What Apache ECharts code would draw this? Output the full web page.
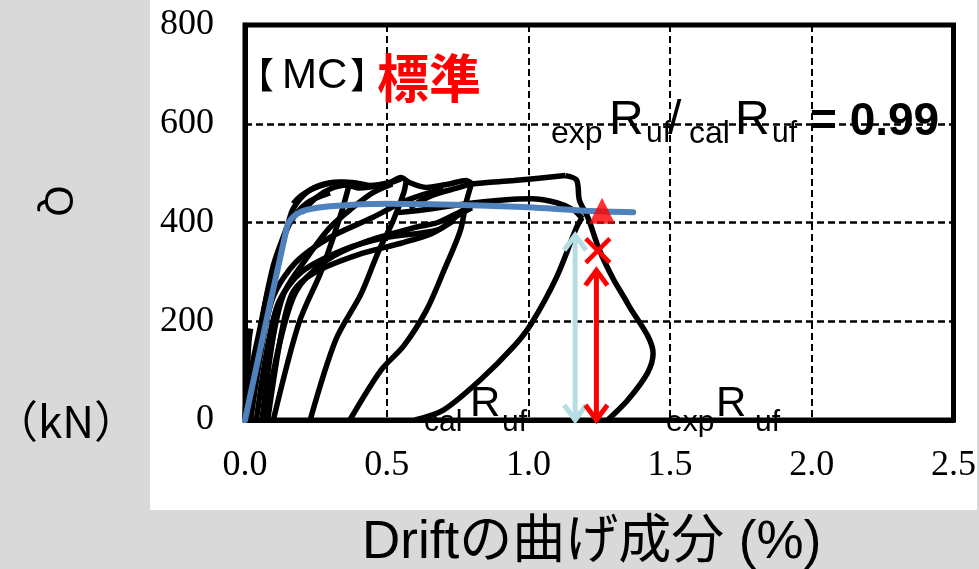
<!DOCTYPE html>
<html>
<head>
<meta charset="utf-8">
<script src="https://cdn.jsdelivr.net/npm/echarts@6/dist/echarts.min.js"></script>
<style>
  html, body { margin: 0; padding: 0; background: #d9d9d9; }
  #main { width: 979px; height: 569px; }
</style>
</head>
<body>
<div id="main"></div>
<script>
// axis ticks
var xTicks = [0.0, 0.5, 1.0, 1.5, 2.0, 2.5];
var yTicks = [0, 200, 400, 600, 800];

// hysteresis curves: [drift %, Q kN]
var loopSmall = [[0, 0], [0.006, 80], [0.014, 160], [0.02, 185]];
var loopFirst = [[0, 0], [0.025, 110], [0.05, 178], [0.1, 313], [0.15, 394], [0.17, 428], [0.22, 462], [0.28, 478], [0.34, 482], [0.38, 480]];
var envelope = [[0.17, 438], [0.2, 455], [0.25, 471], [0.32, 481], [0.38, 481], [0.44, 475], [0.51, 481], [0.55, 491], [0.58, 481], [0.64, 471], [0.72, 478], [0.78, 485], [0.8, 479]];
var topB = [[0.2, 420], [0.25, 450], [0.3, 468], [0.36, 476], [0.4, 470], [0.5, 478], [0.55, 488]];
var fanA = [[0.02, 0], [0.06, 150], [0.1, 250], [0.18, 320], [0.3, 370], [0.45, 410], [0.55, 440], [0.62, 455], [0.7, 468]];
var fanB = [[0.04, 0], [0.08, 150], [0.12, 240], [0.2, 300], [0.35, 345], [0.5, 370], [0.68, 385], [0.75, 414], [0.8, 430]];
var fanC = [[0.06, 0], [0.1, 170], [0.14, 260], [0.22, 330], [0.3, 390], [0.38, 430], [0.45, 460], [0.52, 478]];
var fanD = [[0.01, 0], [0.04, 130], [0.08, 260], [0.12, 340], [0.16, 400], [0.22, 440], [0.3, 460]];
var fanE = [[0.07, 0], [0.12, 150], [0.18, 260], [0.28, 320], [0.42, 360], [0.6, 390], [0.68, 400], [0.76, 422], [0.82, 440]];
var fanF = [[0.08, 0], [0.13, 180], [0.17, 260], [0.25, 300], [0.4, 335], [0.55, 358], [0.66, 378], [0.74, 405]];
var unload1 = [[0.37, 482], [0.34, 420], [0.27, 303], [0.19, 196], [0.1, 0]];
var unload2 = [[0.57, 488], [0.56, 460], [0.52, 400], [0.47, 340], [0.41, 256], [0.32, 162], [0.23, 0]];
var unload3 = [[0.8, 480], [0.78, 440], [0.76, 384], [0.7, 300], [0.64, 222], [0.56, 150], [0.48, 101], [0.37, 0]];
var topLast = [[0.58, 430], [0.66, 455], [0.75, 470], [0.8, 478], [0.95, 485], [1.13, 495]];
var innerLast = [[0.54, 420], [0.66, 428], [0.78, 438], [0.9, 445], [1.01, 448], [1.1, 440], [1.16, 425], [1.19, 408]];
var finalLoad = [[0.6, 0], [0.7, 20], [0.83, 81], [0.95, 150], [1.01, 195], [1.1, 290], [1.17, 390], [1.19, 410]];
var postPeak = [[1.13, 495], [1.17, 486], [1.18, 445], [1.21, 410], [1.25, 345], [1.3, 285], [1.35, 236], [1.44, 135], [1.42, 95], [1.35, 40], [1.28, 0]];

// calculated skeleton curve
var skeleton = [[0, 0], [0.147, 388], [0.16, 405], [0.185, 418], [0.22, 426], [0.3, 433], [0.5, 438], [0.8, 435], [1.0, 431], [1.2, 424], [1.37, 421]];

// markers: [drift, Q] and arrows: [drift, top, bottom]
var peakPoint = [[1.26, 424]];
var failPoint = [[1.245, 343]];
var calArrow = [[1.165, 374, 0]];
var expArrow = [[1.24, 303, 0]];

var blackLoops = [loopSmall, loopFirst, envelope, topB, fanA, fanB, fanC, fanD, fanE, fanF,
  unload1, unload2, unload3, topLast, innerLast, finalLoad, postPeak];

var chart = echarts.init(document.getElementById('main'));

function arrowItem(params, api) {
  var x = api.value(0);
  var p1 = api.coord([x, api.value(1)]);
  var p2 = api.coord([x, api.value(2)]);
  var color = api.visual('color');
  var w = 11, h = 15;
  var st = { stroke: color, lineWidth: 5, fill: null };
  return {
    type: 'group',
    children: [
      { type: 'line', shape: { x1: p1[0], y1: p1[1] + 2, x2: p2[0], y2: p2[1] - 2 }, style: st },
      { type: 'polyline', shape: { points: [[p1[0] - w, p1[1] + h], [p1[0], p1[1]], [p1[0] + w, p1[1] + h]] }, style: st },
      { type: 'polyline', shape: { points: [[p2[0] - w, p2[1] - h], [p2[0], p2[1]], [p2[0] + w, p2[1] - h]] }, style: st }
    ]
  };
}

function crossItem(params, api) {
  var p = api.coord([api.value(0), api.value(1)]);
  var r = 12;
  var st = { stroke: '#ff0000', lineWidth: 4.5 };
  return {
    type: 'group',
    children: [
      { type: 'line', shape: { x1: p[0] - r, y1: p[1] - r, x2: p[0] + r, y2: p[1] + r }, style: st },
      { type: 'line', shape: { x1: p[0] - r, y1: p[1] + r, x2: p[0] + r, y2: p[1] - r }, style: st }
    ]
  };
}

var series = blackLoops.map(function (d) {
  return {
    type: 'line', data: d, smooth: 0.3, symbol: 'none', z: 2,
    lineStyle: { color: '#000', width: 5.5 }
  };
});
series.push({
  type: 'line', data: skeleton, smooth: 0.3, symbol: 'none', z: 3,
  lineStyle: { color: '#4f81bd', width: 6, cap: 'round' }
});
series.push({ type: 'custom', data: calArrow, renderItem: arrowItem, itemStyle: { color: '#b6dde3' }, z: 4 });
series.push({ type: 'custom', data: expArrow, renderItem: arrowItem, itemStyle: { color: '#ff0000' }, z: 4 });
series.push({ type: 'custom', data: failPoint, renderItem: crossItem, z: 5 });
series.push({
  type: 'scatter', data: peakPoint, symbol: 'triangle', symbolSize: [26, 26], z: 5,
  itemStyle: { color: '#ff0000' }
});

var sans = 'Liberation Sans, Noto Sans CJK JP, sans-serif';
var cjk = 'Noto Sans CJK JP, Liberation Sans, sans-serif';

function txt(x, y, s, size, opt) {
  opt = opt || {};
  return {
    type: 'text', x: x, y: y, z: 100, rotation: opt.rotation || 0,
    style: {
      text: s, x: 0, y: 0, fill: opt.color || '#000',
      font: (opt.weight || 'normal') + ' ' + size + 'px ' + (opt.family || sans),
      align: opt.align || 'left', verticalAlign: 'middle'
    }
  };
}

var option = {
  backgroundColor: '#d9d9d9',
  animation: false,
  grid: {
    left: 245, right: 19, top: 25, bottom: 149,
    show: true, borderColor: '#000', borderWidth: 5, backgroundColor: 'transparent'
  },
  xAxis: {
    type: 'value', min: xTicks[0], max: xTicks[xTicks.length - 1], interval: 0.5,
    axisLine: { lineStyle: { color: '#000', width: 5 } },
    axisTick: { show: false },
    axisLabel: {
      color: '#000', fontFamily: 'Liberation Serif', fontSize: 36, margin: 28,
      formatter: function (v) { return v.toFixed(1); }
    },
    splitLine: { lineStyle: { color: '#000', width: 2, type: [7, 4] } }
  },
  yAxis: {
    type: 'value', min: yTicks[0], max: yTicks[yTicks.length - 1], interval: 200,
    axisLine: { show: true, lineStyle: { color: '#000', width: 5 } },
    axisTick: { show: false },
    axisLabel: { color: '#000', fontFamily: 'Liberation Serif', fontSize: 36, margin: 31 },
    splitLine: { lineStyle: { color: '#000', width: 2.5, type: [7, 4] } }
  },
  graphic: [
    { type: 'rect', shape: { x: 150, y: 0, width: 827, height: 510 }, style: { fill: '#fff' }, z: -10 },
    txt(238, 75, '【', 36, { family: cjk }),
    txt(282, 76, 'MC', 42),
    txt(350, 75, '】', 36, { family: cjk }),
    txt(377, 78, '標準', 52, { family: cjk, weight: 'bold', color: '#ff0000' }),
    txt(551, 134, 'exp', 32),
    txt(609, 121, 'R', 48),
    txt(646, 134, 'uf', 30),
    txt(668, 121, '/', 48),
    txt(689, 134, 'cal', 32),
    txt(735, 121, 'R', 48),
    txt(772, 134, 'uf', 30),
    txt(810, 122, '= 0.99', 46, { weight: 'bold' }),
    txt(424, 423, 'cal', 30),
    txt(470, 404, 'R', 42),
    txt(502, 423, 'uf', 30),
    txt(666, 423, 'exp', 30),
    txt(716, 404, 'R', 42),
    txt(755, 423, 'uf', 30),
    txt(56, 201, 'Q', 40, { align: 'center', rotation: -Math.PI / 2 }),
    txt(66, 421, '（kN）', 44, { align: 'center', family: cjk }),
    txt(362, 543, 'Driftの曲げ成分 (%)', 53)
  ],
  series: series
};

chart.setOption(option);
</script>
</body>
</html>
